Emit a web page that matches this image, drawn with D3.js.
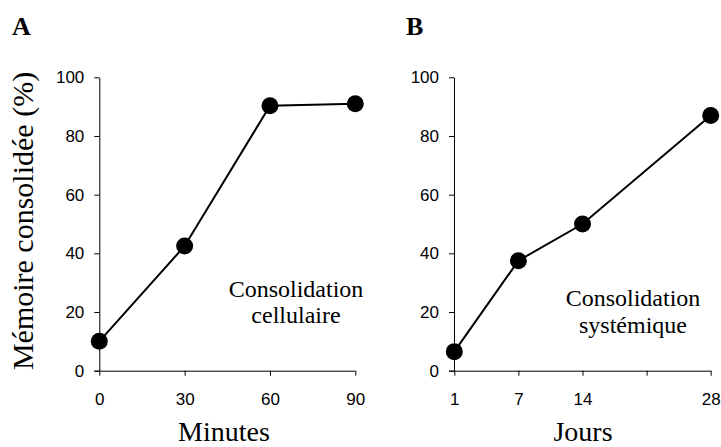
<!DOCTYPE html>
<html>
<head>
<meta charset="utf-8">
<script src="https://cdn.jsdelivr.net/npm/d3@7"></script>
<style>
  html, body { margin: 0; padding: 0; background: #fff; }
  svg { display: block; }
  .tick text { font-family: "Liberation Sans", Arial, sans-serif; font-size: 17px; fill: #000; }
  .serif { font-family: "Liberation Serif", "Times New Roman", serif; fill: #000; }
</style>
</head>
<body>
<svg id="chart" width="721" height="447"></svg>
<script>
// Panel A: cellular consolidation over minutes
const minuteTicks = [0, 30, 60, 90];
const minutes = [0, 30, 60, 90];
const cellular = [10, 42.5, 90.3, 91];

// Panel B: systemic consolidation over days (evenly spaced categories)
const dayCategories = ["1", "7", "14", "21", "28"];
const dayTickLabels = ["1", "7", "14", "", "28"];
const days = ["1", "7", "14", "28"];
const systemic = [6.5, 37.5, 50, 87];

const yTicks = [0, 20, 40, 60, 80, 100];

const svg = d3.select("#chart");
const yTop = 77.3, yBottom = 370.7;

const y = d3.scaleLinear().domain([0, 100]).range([yBottom, yTop]);

function styleAxis(g) {
  g.selectAll("path.domain").attr("stroke", "#000").attr("stroke-width", 1);
  g.selectAll(".tick line").attr("stroke", "#000").attr("stroke-width", 1);
}

function drawPanel(opts) {
  const g = svg.append("g");
  const yAxis = d3.axisLeft(y).tickValues(yTicks).tickSize(5).tickSizeOuter(0).tickPadding(10);
  g.append("g").attr("transform", `translate(${opts.x0},0)`).call(yAxis).call(styleAxis)
    .selectAll("text").attr("font-family", null).attr("font-size", null);

  const xg = g.append("g").attr("transform", `translate(0,${yBottom})`).call(opts.xAxis).call(styleAxis);
  xg.selectAll("text").attr("font-family", null).attr("font-size", null);
  // the horizontal axis reaches left to meet the vertical axis tick
  xg.select("path.domain").attr("d", `M${opts.x0 - 5},0.5H${opts.xEnd}`);

  const pts = opts.xs.map((d, i) => [opts.xScale(d), y(opts.ys[i])]);
  g.append("path")
    .attr("d", d3.line()(pts))
    .attr("fill", "none").attr("stroke", "#000").attr("stroke-width", 2);
  g.selectAll("circle").data(pts).join("circle")
    .attr("cx", d => d[0]).attr("cy", d => d[1]).attr("r", 8.5).attr("fill", "#000");

  g.append("text").attr("class", "serif")
    .attr("x", opts.letterX).attr("y", 35)
    .attr("font-size", 26).attr("font-weight", "bold").text(opts.letter);

  g.append("text").attr("class", "serif")
    .attr("x", opts.titleX).attr("y", 441).attr("text-anchor", "middle")
    .attr("font-size", 28).text(opts.title);

  opts.note.forEach((line, i) => {
    g.append("text").attr("class", "serif")
      .attr("x", opts.noteX).attr("y", opts.noteY + i * 26.6)
      .attr("text-anchor", "middle").attr("font-size", 24).text(line);
  });
}

// Panel A
const xA = d3.scaleLinear().domain([0, 90]).range([99.3, 355.3]);
drawPanel({
  x0: 99.3, xEnd: 355.3,
  xScale: xA,
  xAxis: d3.axisBottom(xA).tickValues(minuteTicks).tickSize(5).tickSizeOuter(0).tickPadding(17),
  xs: minutes, ys: cellular,
  letter: "A", letterX: 12,
  title: "Minutes", titleX: 224,
  note: ["Consolidation", "cellulaire"], noteX: 296, noteY: 296.7
});

// Panel B
const xB = d3.scalePoint().domain(dayCategories).range([454.3, 710.7]).padding(0);
drawPanel({
  x0: 454, xEnd: 711,
  xScale: xB,
  xAxis: d3.axisBottom(xB).tickSize(5).tickSizeOuter(0).tickPadding(17)
    .tickFormat(d => dayTickLabels[dayCategories.indexOf(d)]),
  xs: days, ys: systemic,
  letter: "B", letterX: 406,
  title: "Jours", titleX: 583,
  note: ["Consolidation", "systémique"], noteX: 633, noteY: 306
});

// Shared vertical axis title
svg.append("text").attr("class", "serif")
  .attr("transform", `translate(33,${(70 + 372) / 2}) rotate(-90)`)
  .attr("text-anchor", "middle").attr("font-size", 30)
  .text("Mémoire consolidée (%)");
</script>
</body>
</html>
